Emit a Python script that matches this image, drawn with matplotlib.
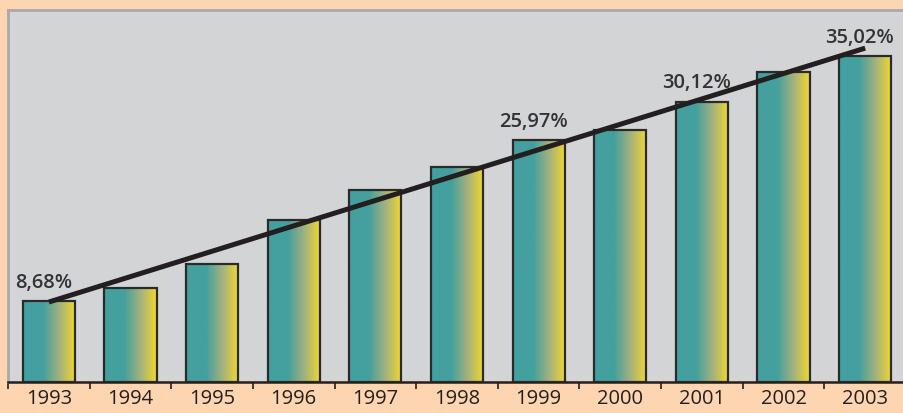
import numpy as np
import matplotlib
matplotlib.use('Agg')
import matplotlib.pyplot as plt
from matplotlib.colors import LinearSegmentedColormap
from matplotlib.patches import Rectangle

# data (percent)
years = ['1993', '1994', '1995', '1996', '1997', '1998', '1999', '2000', '2001', '2002', '2003']
values = [8.68, 10.1, 12.7, 17.4, 20.6, 23.1, 25.97, 27.1, 30.12, 33.3, 35.02]
labelled = {'1993': '8,68%', '1999': '25,97%', '2001': '30,12%', '2003': '35,02%'}
# trend line ends (first and last year)
trend_x = [0, 10]
trend_y = [8.6, 35.9]

teal = '#43A09E'
yellow = '#F4D928'
ink = '#231F20'
cmap = LinearSegmentedColormap.from_list('bar', [(0, teal), (0.38, teal), (0.7, '#A6B27E'), (1, yellow)])

fig = plt.figure(figsize=(9.04, 4.14), dpi=100, facecolor='#FDD5B0')
ax = fig.add_axes([8/904, 31/414, 898/904, 372/414])
ax.set_facecolor('#D3D4D6')

w = 0.64
grad = np.linspace(0, 1, 256).reshape(1, -1)
for i, v in enumerate(values):
    x0 = i - w/2
    ax.imshow(grad, cmap=cmap, aspect='auto', extent=[x0, x0 + w, 0, v],
              origin='lower', zorder=2, interpolation='bilinear')
    ax.add_patch(Rectangle((x0, 0), w, v, fill=False, edgecolor='#2B2A2A', lw=1.6, zorder=3))

ax.plot(trend_x, trend_y, color=ink, lw=3.6, solid_capstyle='butt', zorder=4)

for i, y in enumerate(years):
    if y in labelled:
        ax.annotate(labelled[y], xy=(i, values[i]), xytext=(-4, 7), textcoords='offset points',
                    ha='center', va='bottom', fontsize=14.5, fontweight='semibold',
                    family=['Open Sans', 'DejaVu Sans'], color='#333333', zorder=5)

ax.set_xlim(-0.5, 10.5)
ax.set_ylim(0, 40)
ax.set_xticks(range(len(years)))
ax.set_xticklabels(years, fontsize=14.5, color=ink, family=['Open Sans', 'DejaVu Sans'])
ax.tick_params(axis='x', which='major', length=0, pad=4)
ax.set_xticks(np.arange(-0.5, 11, 1), minor=True)
ax.tick_params(axis='x', which='minor', length=5, width=1.2, color=ink, direction='out')
ax.set_yticks([])

for s in ['top', 'left']:
    ax.spines[s].set_color('#A9A9AB')
    ax.spines[s].set_linewidth(2)
ax.spines['right'].set_visible(False)
ax.spines['bottom'].set_color(ink)
ax.spines['bottom'].set_linewidth(1.8)

fig.savefig('out.png', dpi=100, facecolor=fig.get_facecolor())
